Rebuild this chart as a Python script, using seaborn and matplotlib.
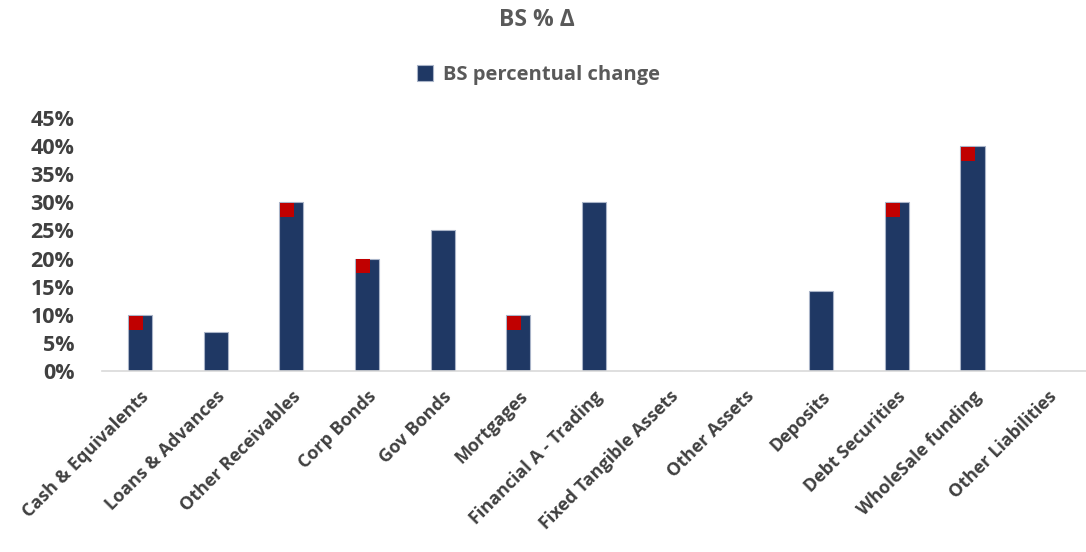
import numpy as np
import pandas as pd
import matplotlib
matplotlib.use('Agg')
import matplotlib.pyplot as plt
import matplotlib.transforms as mtransforms
from matplotlib.ticker import PercentFormatter
import seaborn as sns

categories = ['Cash & Equivalents', 'Loans & Advances', 'Other Receivables', 'Corp Bonds',
              'Gov Bonds', 'Mortgages', 'Financial A - Trading', 'Fixed Tangible Assets',
              'Other Assets', 'Deposits', 'Debt Securities', 'WholeSale funding',
              'Other Liabilities']
bs_change = [0.10, 0.07, 0.30, 0.20, 0.25, 0.10, 0.30, 0.0, 0.0, 0.143, 0.30, 0.40, 0.0]
# red flags drawn just under the bar top
flag_vals = [0.086, np.nan, 0.286, 0.186, np.nan, 0.086, np.nan, np.nan, np.nan, np.nan,
             0.286, 0.386, np.nan]
yticks = [0, 0.05, 0.10, 0.15, 0.20, 0.25, 0.30, 0.35, 0.40, 0.45]

sns.set_theme(style='white')
plt.rcParams['font.family'] = ['Open Sans', 'DejaVu Sans']

df = pd.DataFrame({'item': categories, 'change': bs_change, 'flag': flag_vals})

fig = plt.figure(figsize=(10.86, 5.52), dpi=100)
ax = fig.add_axes([0.094, 0.328, 0.906, 0.458])

sns.barplot(data=df, x='item', y='change', color='#1F3864', saturation=1, width=0.32,
            edgecolor='#A9B4C8', linewidth=0.8, label='BS percentual change', ax=ax)

# flags sit a few pixels left of bar centre
offset = mtransforms.ScaledTranslation(-4 / 100, 0, fig.dpi_scale_trans)
ax.scatter(np.arange(len(categories)), df['flag'], marker='s', s=95, color='#C00000',
           linewidths=0, zorder=3, transform=ax.transData + offset)

ax.set_ylim(0, 0.45)
ax.set_xlim(-0.5, len(categories) - 0.5)
ax.set_yticks(yticks)
ax.yaxis.set_major_formatter(PercentFormatter(1.0, decimals=0))
ax.set_xlabel('')
ax.set_ylabel('')
for s in ['top', 'right', 'left']:
    ax.spines[s].set_visible(False)
ax.spines['bottom'].set_color('#D9D9D9')
ax.spines['bottom'].set_linewidth(1.2)
ax.tick_params(axis='y', length=0, pad=20, labelsize=15.5, labelcolor='#404040')
ax.tick_params(axis='x', length=0, pad=12, labelsize=13, labelcolor='#404040')
for lab in ax.get_yticklabels():
    lab.set_fontweight('bold')
for lab in ax.get_xticklabels():
    lab.set_fontweight('bold')
    lab.set_rotation(45)
    lab.set_ha('right')
    lab.set_rotation_mode('anchor')

fig.text(0.494, 0.963, 'BS % Δ', ha='center', va='center', fontsize=16.5,
         fontweight='bold', color='#595959')
leg = ax.legend(loc='center', bbox_to_anchor=(0.496, 0.864), bbox_transform=fig.transFigure,
                frameon=False, fontsize=14.5, handlelength=0.8, handleheight=0.8,
                handletextpad=0.5)
for t in leg.get_texts():
    t.set_fontweight('bold')
    t.set_color('#595959')

plt.savefig('out.png', dpi=100)
plt.close()
